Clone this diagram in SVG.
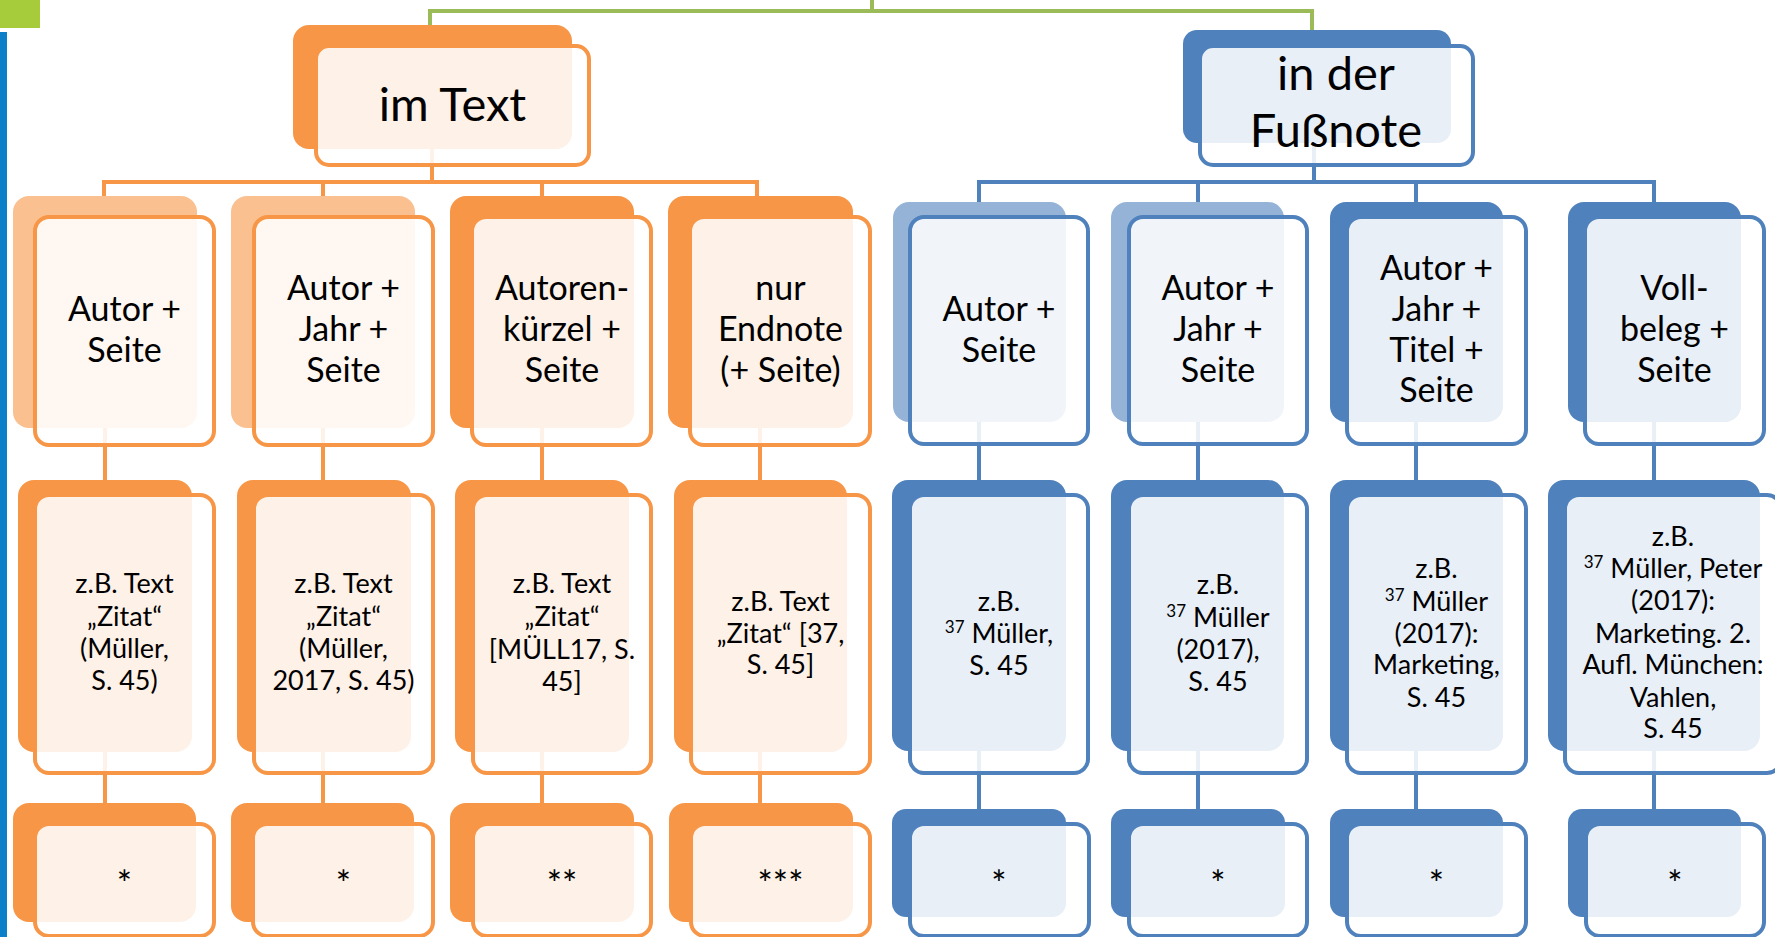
<svg xmlns="http://www.w3.org/2000/svg" width="1775" height="937" viewBox="0 0 1775 937">
<style>
text{font-family:Lato,"Liberation Sans",sans-serif;fill:#000;text-anchor:middle}
.t1{font-size:47px}
.t2{font-size:34px}
.t3{font-size:27px}
.st{font-size:36px}
.sup{font-size:17px}
.conO{stroke:#F79646;stroke-width:4;fill:none}
.conB{stroke:#4F81BD;stroke-width:4;fill:none}
.conG{stroke:#9BBB59;stroke-width:4;fill:none}
.bO{fill:#F79646}
.bOl{fill:#FAC090}
.bB{fill:#4F81BD}
.bBl{fill:#95B3D7}
.fO{fill:#fff;fill-opacity:0.87;stroke:#F79646;stroke-width:4}
.fB{fill:#fff;fill-opacity:0.87;stroke:#4F81BD;stroke-width:4}
</style>
<rect x="0" y="0" width="40" height="28" fill="#A6CB3B"/>
<rect x="0" y="32" width="7" height="905" fill="#0B80C8"/>
<g id="connectors">
<path class="conG" d="M430,25 V11 H1312 V30 M872,0 V11"/>
<path class="conO" d="M432,149 V182 M104,196 V182 H757 V196 M323,182 V196 M542,182 V196"/>
<path class="conO" d="M105,428 V480 M323,428 V480 M542,428 V480 M760,428 V480"/>
<path class="conO" d="M105,752 V803 M323,752 V803 M542,752 V803 M760,752 V803"/>
<path class="conB" d="M1314,143 V182 M979,202 V182 H1654 V202 M1198,182 V202 M1416,182 V202"/>
<path class="conB" d="M979,422 V480 M1198,422 V480 M1416,422 V480 M1654,422 V480"/>
<path class="conB" d="M979,751 V809 M1198,751 V809 M1416,751 V809 M1654,751 V809"/>
</g>
<g id="n-imtext">
<rect class="bO" x="293" y="25" width="279" height="124" rx="16"/>
<rect class="fO" x="316" y="46" width="273" height="119" rx="13"/>
<text class="t1" x="452.5" y="121">im Text</text>
</g>
<g id="n-fussnote">
<rect class="bB" x="1183" y="30" width="268" height="113" rx="14"/>
<rect class="fB" x="1200" y="46" width="273" height="119" rx="13"/>
<text class="t1" x="1336" y="90">in der</text>
<text class="t1" x="1336" y="147">Fußnote</text>
</g>
<g id="o2-1">
<rect class="bOl" x="13" y="196" width="184" height="232" rx="16"/>
<rect class="fO" x="35" y="217" width="179" height="228" rx="14"/>
<text class="t2" x="124.5" y="321">Autor +</text>
<text class="t2" x="124.5" y="362">Seite</text>
</g>
<g id="o2-2">
<rect class="bOl" x="231" y="196" width="184" height="232" rx="16"/>
<rect class="fO" x="254" y="217" width="179" height="228" rx="14"/>
<text class="t2" x="343.5" y="300">Autor +</text>
<text class="t2" x="343.5" y="341">Jahr +</text>
<text class="t2" x="343.5" y="382">Seite</text>
</g>
<g id="o2-3">
<rect class="bO" x="450" y="196" width="184" height="232" rx="16"/>
<rect class="fO" x="472" y="217" width="179" height="228" rx="14"/>
<text class="t2" x="562" y="300">Autoren-</text>
<text class="t2" x="562" y="341">kürzel +</text>
<text class="t2" x="562" y="382">Seite</text>
</g>
<g id="o2-4">
<rect class="bO" x="668" y="196" width="185" height="232" rx="16"/>
<rect class="fO" x="690" y="217" width="180" height="228" rx="14"/>
<text class="t2" x="780.5" y="300">nur</text>
<text class="t2" x="780.5" y="341">Endnote</text>
<text class="t2" x="780.5" y="382">(+ Seite)</text>
</g>
<g id="b2-1">
<rect class="bBl" x="893" y="202" width="173" height="220" rx="16"/>
<rect class="fB" x="910" y="217" width="178" height="227" rx="14"/>
<text class="t2" x="999" y="321">Autor +</text>
<text class="t2" x="999" y="362">Seite</text>
</g>
<g id="b2-2">
<rect class="bBl" x="1111" y="202" width="173" height="220" rx="16"/>
<rect class="fB" x="1129" y="217" width="178" height="227" rx="14"/>
<text class="t2" x="1218" y="300">Autor +</text>
<text class="t2" x="1218" y="341">Jahr +</text>
<text class="t2" x="1218" y="382">Seite</text>
</g>
<g id="b2-3">
<rect class="bB" x="1330" y="202" width="173" height="220" rx="16"/>
<rect class="fB" x="1347" y="217" width="179" height="227" rx="14"/>
<text class="t2" x="1436.5" y="280">Autor +</text>
<text class="t2" x="1436.5" y="321">Jahr +</text>
<text class="t2" x="1436.5" y="362">Titel +</text>
<text class="t2" x="1436.5" y="402">Seite</text>
</g>
<g id="b2-4">
<rect class="bB" x="1568" y="202" width="173" height="220" rx="16"/>
<rect class="fB" x="1585" y="217" width="179" height="227" rx="14"/>
<text class="t2" x="1674.5" y="300">Voll-</text>
<text class="t2" x="1674.5" y="341">beleg +</text>
<text class="t2" x="1674.5" y="382">Seite</text>
</g>
<g id="o3-1">
<rect class="bO" x="18" y="480" width="174" height="272" rx="16"/>
<rect class="fO" x="35" y="495" width="179" height="278" rx="14"/>
<text class="t3" x="124.5" y="593">z.B. Text</text>
<text class="t3" x="124.5" y="626">„Zitat“</text>
<text class="t3" x="124.5" y="658">(Müller,</text>
<text class="t3" x="124.5" y="690">S. 45)</text>
</g>
<g id="o3-2">
<rect class="bO" x="237" y="480" width="174" height="272" rx="16"/>
<rect class="fO" x="254" y="495" width="179" height="278" rx="14"/>
<text class="t3" x="343.5" y="593">z.B. Text</text>
<text class="t3" x="343.5" y="626">„Zitat“</text>
<text class="t3" x="343.5" y="658">(Müller,</text>
<text class="t3" x="343.5" y="690">2017, S. 45)</text>
</g>
<g id="o3-3">
<rect class="bO" x="455" y="480" width="174" height="272" rx="16"/>
<rect class="fO" x="473" y="495" width="178" height="278" rx="14"/>
<text class="t3" x="562" y="593">z.B. Text</text>
<text class="t3" x="562" y="626">„Zitat“</text>
<text class="t3" x="562" y="659">[MÜLL17, S.</text>
<text class="t3" x="562" y="691">45]</text>
</g>
<g id="o3-4">
<rect class="bO" x="674" y="480" width="173" height="272" rx="16"/>
<rect class="fO" x="691" y="495" width="179" height="278" rx="14"/>
<text class="t3" x="780.5" y="611">z.B. Text</text>
<text class="t3" x="780.5" y="643">„Zitat“ [37,</text>
<text class="t3" x="780.5" y="674">S. 45]</text>
</g>
<g id="b3-1">
<rect class="bB" x="892" y="480" width="174" height="271" rx="16"/>
<rect class="fB" x="910" y="495" width="178" height="278" rx="14"/>
<text class="t3" x="999" y="611">z.B.</text>
<text class="t3" x="999" y="643"><tspan class="sup" dy="-10">37</tspan><tspan dy="10"> Müller,</tspan></text>
<text class="t3" x="999" y="675">S. 45</text>
</g>
<g id="b3-2">
<rect class="bB" x="1111" y="480" width="173" height="271" rx="16"/>
<rect class="fB" x="1129" y="495" width="178" height="278" rx="14"/>
<text class="t3" x="1218" y="594">z.B.</text>
<text class="t3" x="1218" y="627"><tspan class="sup" dy="-10">37</tspan><tspan dy="10"> Müller</tspan></text>
<text class="t3" x="1218" y="659">(2017),</text>
<text class="t3" x="1218" y="691">S. 45</text>
</g>
<g id="b3-3">
<rect class="bB" x="1330" y="480" width="173" height="271" rx="16"/>
<rect class="fB" x="1347" y="495" width="179" height="278" rx="14"/>
<text class="t3" x="1436.5" y="578">z.B.</text>
<text class="t3" x="1436.5" y="611"><tspan class="sup" dy="-10">37</tspan><tspan dy="10"> Müller</tspan></text>
<text class="t3" x="1436.5" y="643">(2017):</text>
<text class="t3" x="1436.5" y="674">Marketing,</text>
<text class="t3" x="1436.5" y="707">S. 45</text>
</g>
<g id="b3-4">
<rect class="bB" x="1548" y="480" width="212" height="271" rx="16"/>
<rect class="fB" x="1565" y="495" width="216" height="278" rx="14"/>
<text class="t3" x="1673" y="546">z.B.</text>
<text class="t3" x="1673" y="578"><tspan class="sup" dy="-10">37</tspan><tspan dy="10"> Müller, Peter</tspan></text>
<text class="t3" x="1673" y="610">(2017):</text>
<text class="t3" x="1673" y="643">Marketing. 2.</text>
<text class="t3" x="1673" y="674">Aufl. München:</text>
<text class="t3" x="1673" y="707">Vahlen,</text>
<text class="t3" x="1673" y="738">S. 45</text>
</g>
<g id="o4-1">
<rect class="bO" x="13" y="803" width="183" height="119" rx="16"/>
<rect class="fO" x="35" y="824" width="179" height="112" rx="14"/>
<text class="st" x="124.5" y="897">*</text>
</g>
<g id="o4-2">
<rect class="bO" x="231" y="803" width="183" height="119" rx="16"/>
<rect class="fO" x="253" y="824" width="180" height="112" rx="14"/>
<text class="st" x="343.5" y="897">*</text>
</g>
<g id="o4-3">
<rect class="bO" x="450" y="803" width="184" height="119" rx="16"/>
<rect class="fO" x="473" y="824" width="178" height="112" rx="14"/>
<text class="st" x="562" y="897">**</text>
</g>
<g id="o4-4">
<rect class="bO" x="669" y="803" width="184" height="119" rx="16"/>
<rect class="fO" x="691" y="824" width="179" height="112" rx="14"/>
<text class="st" x="780.5" y="897">***</text>
</g>
<g id="b4-1">
<rect class="bB" x="892" y="809" width="174" height="108" rx="14"/>
<rect class="fB" x="910" y="824" width="179" height="112" rx="14"/>
<text class="st" x="999" y="897">*</text>
</g>
<g id="b4-2">
<rect class="bB" x="1111" y="809" width="174" height="108" rx="14"/>
<rect class="fB" x="1129" y="824" width="178" height="112" rx="14"/>
<text class="st" x="1218" y="897">*</text>
</g>
<g id="b4-3">
<rect class="bB" x="1330" y="809" width="173" height="108" rx="14"/>
<rect class="fB" x="1347" y="824" width="179" height="112" rx="14"/>
<text class="st" x="1436.5" y="897">*</text>
</g>
<g id="b4-4">
<rect class="bB" x="1568" y="809" width="173" height="108" rx="14"/>
<rect class="fB" x="1586" y="824" width="178" height="112" rx="14"/>
<text class="st" x="1675" y="897">*</text>
</g>
</svg>
